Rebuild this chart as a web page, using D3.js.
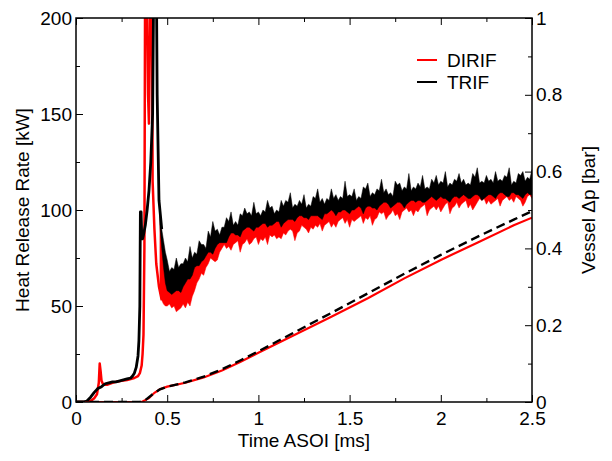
<!DOCTYPE html>
<html>
<head>
<meta charset="utf-8">
<script src="https://cdn.jsdelivr.net/npm/d3@7"></script>
<style>
  body { margin:0; background:#fff; }
  svg text { font-family: "Liberation Sans", Arial, Helvetica, sans-serif; fill:#000; }
  .tick line { stroke:#000; }
</style>
</head>
<body>
<div class="chart-wrapper"></div>
<script>

// ---- data ----
// early heat release (ms, kW), before the noisy band starts
const trifEarly = [[0,0],[0.04,0],[0.06,0.5],[0.08,2.5],[0.1,5],[0.12,7],[0.14,8],[0.16,9.5],[0.18,10],[0.2,10.5],[0.22,10.5],[0.24,11],[0.26,11.5],[0.28,12],[0.3,12.5],[0.31,13.5],[0.32,15],[0.33,18],[0.34,24],[0.345,32],[0.35,50],[0.353,99],[0.357,99],[0.36,88],[0.365,85],[0.37,87],[0.38,92],[0.39,100],[0.4,110],[0.41,125],[0.42,150],[0.43,260],[0.44,230],[0.445,160],[0.455,105],[0.47,90]]

const dirifEarly = [[0,0],[0.06,0],[0.08,0.5],[0.1,2],[0.115,4],[0.125,10],[0.13,20],[0.135,16],[0.14,11],[0.15,9],[0.17,9],[0.2,10],[0.22,10.5],[0.25,11],[0.28,11.5],[0.3,12],[0.32,12.5],[0.34,13.5],[0.35,15],[0.36,19],[0.365,25],[0.37,35],[0.375,80],[0.38,260],[0.385,260],[0.39,200],[0.395,160],[0.4,145],[0.405,190],[0.41,260],[0.415,260],[0.42,115],[0.43,90],[0.44,72],[0.455,60],[0.47,53]]

// noisy band envelopes (kW), 0.46 .. 2.5 ms
const bandTime = [0.46,0.47,0.48,0.49,
  0.5,0.5125,0.525,0.5375,0.55,0.5625,0.575,0.5875,
  0.6,0.6125,0.625,0.6375,0.65,0.6625,0.675,0.6875,
  0.7,0.7125,0.725,0.7375,0.75,0.7625,0.775,0.7875,
  0.8,0.8125,0.825,0.8375,0.85,0.8625,0.875,0.8875,
  0.9,0.9125,0.925,0.9375,0.95,0.9625,0.975,0.9875,
  1.0,1.0125,1.025,1.0375,1.05,1.0625,1.075,1.0875,
  1.1,1.1125,1.125,1.1375,1.15,1.1625,1.175,1.1875,
  1.2,1.2125,1.225,1.2375,1.25,1.2625,1.275,1.2875,
  1.3,1.3125,1.325,1.3375,1.35,1.3625,1.375,1.3875,
  1.4,1.4125,1.425,1.4375,1.45,1.4625,1.475,1.4875,
  1.5,1.5125,1.525,1.5375,1.55,1.5625,1.575,1.5875,
  1.6,1.6125,1.625,1.6375,1.65,1.6625,1.675,1.6875,
  1.7,1.7125,1.725,1.7375,1.75,1.7625,1.775,1.7875,
  1.8,1.8125,1.825,1.8375,1.85,1.8625,1.875,1.8875,
  1.9,1.9125,1.925,1.9375,1.95,1.9625,1.975,1.9875,
  2.0,2.0125,2.025,2.0375,2.05,2.0625,2.075,2.0875,
  2.1,2.1125,2.125,2.1375,2.15,2.1625,2.175,2.1875,
  2.2,2.2125,2.225,2.2375,2.25,2.2625,2.275,2.2875,
  2.3,2.3125,2.325,2.3375,2.35,2.3625,2.375,2.3875,
  2.4,2.4125,2.425,2.4375,2.45,2.4625,2.475,2.4875,
  2.5]

const trifUpper = [100,90,84,78,
  74,68,70,69,75,70,72,72,
  75,73,81,75,78,77,84,82,
  82,80,89,86,94,89,90,87,
  91,91,96,94,99,92,94,92,
  98,97,101,98,99,97,104,98,
  99,97,100,99,105,101,102,98,
  100,99,105,102,105,104,109,101,
  103,102,105,103,108,101,103,102,
  107,106,111,104,106,103,106,105,
  111,106,108,105,107,106,115,107,
  108,107,111,105,107,106,112,111,
  114,107,109,108,111,110,116,109,
  111,108,109,107,115,113,114,110,
  112,111,119,110,112,111,114,112,
  118,111,112,111,116,114,118,113,
  115,114,120,112,114,113,116,115,
  119,114,116,113,114,113,119,117,
  122,114,115,114,118,115,116,114,
  120,115,116,115,118,117,122,113,
  115,114,119,118,120,115,117,116,
  121]

const trifLower = [92,80,70,62,
  58,57,56,57,58,58,57,60,
  62,64,64,66,70,71,71,73,
  74,76,78,78,77,80,82,83,
  83,83,83,86,88,88,87,87,
  86,89,90,91,91,90,89,91,
  91,92,93,93,91,92,92,93,
  94,94,91,93,94,95,95,95,
  94,96,97,97,96,96,95,97,
  97,97,97,96,95,98,98,99,
  100,99,97,99,99,100,100,99,
  98,100,100,101,102,101,98,101,
  102,102,101,101,100,102,103,104,
  104,103,101,102,103,104,104,103,
  101,103,104,105,105,104,105,105,
  104,104,105,106,107,106,105,106,
  107,106,106,105,104,106,107,107,
  106,107,108,107,106,106,107,108,
  108,107,105,106,107,108,108,107,
  106,108,109,109,108,107,107,109,
  109,108,108,107,106,108,109,108,
  108]

const dirifLower = [58,53,51,50,
  50,51,49,50,47,48,49,51,
  49,52,50,55,58,62,64,67,
  66,70,72,75,74,73,74,78,
  80,82,80,81,79,82,83,84,
  78,82,83,85,82,83,85,86,
  82,85,84,86,82,87,86,87,
  85,86,85,88,87,89,90,89,
  84,88,89,92,91,90,88,91,
  90,92,91,93,89,92,93,94,
  91,93,91,94,95,96,93,95,
  91,95,94,95,96,97,93,96,
  95,97,92,95,96,99,98,99,
  95,97,98,100,97,98,95,99,
  100,101,99,100,97,100,99,101,
  102,103,97,100,101,102,100,102,
  99,101,103,104,98,101,102,104,
  101,103,104,105,101,103,100,102,
  104,106,105,106,103,105,103,104,
  105,106,102,105,106,107,105,106,
  104,107,106,105,102,104,107,108,
  106]

// vessel pressure rise (ms, bar)
const trifDp = [[0,0],[0.35,0],[0.38,0.005],[0.42,0.02],[0.46,0.033],[0.5,0.04],[0.6,0.051],[0.7,0.066],[0.8,0.085],[0.9,0.108],[1.0,0.132],[1.2,0.182],[1.4,0.232],[1.6,0.283],[1.8,0.334],[2.0,0.383],[2.2,0.43],[2.4,0.475],[2.5,0.497]]
const dirifDp = [[0,0],[0.36,0],[0.4,0.01],[0.43,0.024],[0.46,0.033],[0.5,0.04],[0.6,0.05],[0.7,0.064],[0.8,0.082],[0.9,0.104],[1.0,0.128],[1.2,0.175],[1.4,0.222],[1.6,0.27],[1.8,0.322],[2.0,0.37],[2.2,0.415],[2.4,0.46],[2.5,0.48]]

const xTicks = [0,0.5,1,1.5,2,2.5]
const xMinor = [0.25,0.75,1.25,1.75,2.25]
const hrrTicks = [0,50,100,150,200]
const hrrMinor = [25,75,125,175]
const dpTicks = [0,0.2,0.4,0.6,0.8,1]
const dpMinor = [0.1,0.3,0.5,0.7,0.9]

const legendItems = ['DIRIF', 'TRIF']
const colors = {DIRIF:'#ff0000', TRIF:'#000000'}

// ---- layout ----
const width = 612, height = 461
const margin = {left:76, top:18, right:80, bottom:59}
const x0 = margin.left, x1 = width - margin.right
const y0 = height - margin.bottom, y1 = margin.top

const svg = d3.select('.chart-wrapper')
.append('svg')
.attr('width', width)
.attr('height', height)

svg.append('defs')
.append('clipPath')
.attr('id', 'plot-clip')
.append('rect')
.attr('x', x0).attr('y', y1)
.attr('width', x1 - x0).attr('height', y0 - y1)

const xScale = d3.scaleLinear().domain([0, 2.5]).range([x0, x1])
const yHrr = d3.scaleLinear().domain([0, 200]).range([y0, y1])
const yDp = d3.scaleLinear().domain([0, 1]).range([y0, y1])

const marks = svg.append('g').attr('clip-path', 'url(#plot-clip)')

const hrrLine = d3.line().x(d => xScale(d[0])).y(d => yHrr(d[1]))
const dpLine = d3.line().x(d => xScale(d[0])).y(d => yDp(d[1]))
const band = d3.area().x(d => xScale(d[0])).y0(d => yHrr(d[1])).y1(d => yHrr(d[2]))

// DIRIF band (its top hides behind the TRIF band)
marks.append('path')
.datum(bandTime.map((t,i) => [t, dirifLower[i], trifUpper[i] - 3]))
.attr('fill', colors.DIRIF)
.attr('stroke', colors.DIRIF)
.attr('stroke-width', 0.5)
.attr('d', band)

marks.append('path')
.datum(dirifEarly)
.attr('fill', 'none')
.attr('stroke', colors.DIRIF)
.attr('stroke-width', 2.5)
.attr('stroke-linejoin', 'round')
.attr('d', hrrLine)

marks.append('path')
.datum(bandTime.map((t,i) => [t, trifLower[i], trifUpper[i]]))
.attr('fill', colors.TRIF)
.attr('stroke', colors.TRIF)
.attr('stroke-width', 0.5)
.attr('d', band)

marks.append('path')
.datum(trifEarly)
.attr('fill', 'none')
.attr('stroke', colors.TRIF)
.attr('stroke-width', 2.8)
.attr('stroke-linejoin', 'round')
.attr('d', hrrLine)

// pressure curves
marks.append('path')
.datum(dirifDp)
.attr('fill', 'none')
.attr('stroke', colors.DIRIF)
.attr('stroke-width', 2.2)
.attr('d', dpLine)

marks.append('path')
.datum(trifDp)
.attr('fill', 'none')
.attr('stroke', colors.TRIF)
.attr('stroke-width', 2.4)
.attr('stroke-dasharray', '9,5')
.attr('d', dpLine)

// ---- axes (ticks point inward) ----
const major = 7, minor = 4
const axes = svg.append('g').attr('font-size', 19)

function styleAxis(g) {
	g.select('.domain').remove()
	g.selectAll('text').attr('font-family', '"Liberation Sans", Arial, Helvetica, sans-serif').attr('font-size', 19)
}

axes.append('g')
.attr('transform', `translate(0,${y0})`)
.call(d3.axisBottom(xScale).tickValues(xTicks).tickSize(-major).tickPadding(10).tickFormat(d => d))
.call(styleAxis)

axes.append('g')
.attr('transform', `translate(0,${y0})`)
.call(d3.axisBottom(xScale).tickValues(xMinor).tickSize(-minor).tickFormat(''))
.call(styleAxis)

axes.append('g')
.attr('transform', `translate(0,${y1})`)
.call(d3.axisTop(xScale).tickValues(xTicks).tickSize(-major).tickFormat(''))
.call(styleAxis)

axes.append('g')
.attr('transform', `translate(0,${y1})`)
.call(d3.axisTop(xScale).tickValues(xMinor).tickSize(-minor).tickFormat(''))
.call(styleAxis)

axes.append('g')
.attr('transform', `translate(${x0},0)`)
.call(d3.axisLeft(yHrr).tickValues(hrrTicks).tickSize(-major).tickPadding(4).tickFormat(d => d))
.call(styleAxis)

axes.append('g')
.attr('transform', `translate(${x0},0)`)
.call(d3.axisLeft(yHrr).tickValues(hrrMinor).tickSize(-minor).tickFormat(''))
.call(styleAxis)

axes.append('g')
.attr('transform', `translate(${x1},0)`)
.call(d3.axisRight(yDp).tickValues(dpTicks).tickSize(-major).tickPadding(4).tickFormat(d => d))
.call(styleAxis)

axes.append('g')
.attr('transform', `translate(${x1},0)`)
.call(d3.axisRight(yDp).tickValues(dpMinor).tickSize(-minor).tickFormat(''))
.call(styleAxis)

// frame
svg.append('rect')
.attr('x', x0).attr('y', y1)
.attr('width', x1 - x0).attr('height', y0 - y1)
.attr('fill', 'none')
.attr('stroke', '#000')
.attr('stroke-width', 1.5)

// axis titles
svg.append('text')
.attr('x', (x0 + x1) / 2)
.attr('y', 447)
.attr('text-anchor', 'middle')
.attr('font-size', 19)
.text('Time ASOI [ms]')

svg.append('text')
.attr('transform', `translate(29,${(y0 + y1) / 2}) rotate(-90)`)
.attr('text-anchor', 'middle')
.attr('font-size', 19)
.text('Heat Release Rate [kW]')

svg.append('text')
.attr('transform', `translate(595,${(y0 + y1) / 2}) rotate(-90)`)
.attr('text-anchor', 'middle')
.attr('font-size', 19)
.text('Vessel Δp [bar]')

// legend
const legend = svg.append('g').attr('transform', 'translate(417,60)')

legendItems.forEach((name, i) => {
	const row = legend.append('g').attr('transform', `translate(0,${i * 22})`)
	row.append('line')
	.attr('x1', 0).attr('x2', 20)
	.attr('stroke', colors[name])
	.attr('stroke-width', 2)
	row.append('text')
	.attr('x', 30)
	.attr('y', 7)
	.attr('font-size', 19)
	.text(name)
})

</script>
</body>
</html>
